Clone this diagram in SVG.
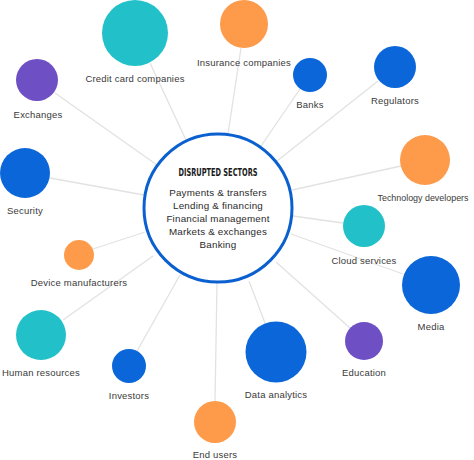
<svg xmlns="http://www.w3.org/2000/svg" width="474" height="460" viewBox="0 0 474 460">
<style>
.lbl{font-family:"Liberation Sans",Arial,sans-serif;font-size:9.5px;fill:#3a3a3a;text-anchor:middle;letter-spacing:0.2px}
.body{font-family:"Liberation Sans",Arial,sans-serif;font-size:9.8px;fill:#2a2a2a;text-anchor:middle;letter-spacing:0.2px}
.title{font-family:"Liberation Sans Narrow","DejaVu Sans Condensed",sans-serif;font-size:10.5px;font-weight:bold;fill:#1a1a1a;text-anchor:middle}
.teal{fill:#22c0c8}.orange{fill:#fd9b4b}.blue{fill:#0a66d9}.purple{fill:#6e4fc4}
.conn line{stroke:#e2e2e2;stroke-width:1.3}
</style>
<rect width="474" height="460" fill="#ffffff"/>
<g id="connectors" class="conn">
<line x1="150" y1="63" x2="186" y2="140"/>
<line x1="55" y1="93" x2="157" y2="165"/>
<line x1="50" y1="178" x2="144" y2="195"/>
<line x1="241" y1="48" x2="228" y2="134"/>
<line x1="300" y1="89" x2="261" y2="146"/>
<line x1="378" y1="81" x2="277" y2="161"/>
<line x1="401" y1="166" x2="292" y2="190"/>
<line x1="343" y1="223" x2="293" y2="216"/>
<line x1="403" y1="274" x2="291" y2="234"/>
<line x1="350" y1="328" x2="276" y2="262"/>
<line x1="265" y1="323" x2="249" y2="281"/>
<line x1="215" y1="401" x2="217" y2="283"/>
<line x1="137" y1="351" x2="180" y2="275"/>
<line x1="63" y1="320" x2="153" y2="256"/>
<line x1="93" y1="249" x2="145" y2="232"/>
</g>
<g id="center">
<circle cx="218" cy="208" r="74" fill="#ffffff" stroke="#0b60d0" stroke-width="3"/>
<text class="title" x="218" y="176" textLength="79" lengthAdjust="spacingAndGlyphs">DISRUPTED SECTORS</text>
<text class="body" x="218" y="195.5">Payments &amp; transfers</text>
<text class="body" x="218" y="208.5">Lending &amp; financing</text>
<text class="body" x="218" y="221.5">Financial management</text>
<text class="body" x="218" y="234.5">Markets &amp; exchanges</text>
<text class="body" x="218" y="247.5">Banking</text>
</g>
<g id="credit-card"><circle class="teal" cx="135" cy="33" r="33"/><text class="lbl" x="135" y="82">Credit card companies</text></g>
<g id="exchanges"><circle class="purple" cx="37" cy="80" r="21"/><text class="lbl" x="38" y="118">Exchanges</text></g>
<g id="security"><circle class="blue" cx="25" cy="173" r="25"/><text class="lbl" x="25" y="214">Security</text></g>
<g id="insurance"><circle class="orange" cx="244" cy="24" r="24"/><text class="lbl" x="244" y="66">Insurance companies</text></g>
<g id="banks"><circle class="blue" cx="310" cy="75" r="17"/><text class="lbl" x="310" y="108">Banks</text></g>
<g id="regulators"><circle class="blue" cx="395" cy="67" r="21"/><text class="lbl" x="395" y="104">Regulators</text></g>
<g id="tech"><circle class="orange" cx="425" cy="160" r="25"/><text class="lbl" x="423" y="201" style="letter-spacing:0" textLength="91" lengthAdjust="spacingAndGlyphs">Technology developers</text></g>
<g id="cloud"><circle class="teal" cx="364" cy="226" r="21"/><text class="lbl" x="364" y="264">Cloud services</text></g>
<g id="media"><circle class="blue" cx="431" cy="285" r="29"/><text class="lbl" x="431" y="330">Media</text></g>
<g id="education"><circle class="purple" cx="364" cy="341" r="19"/><text class="lbl" x="364" y="376">Education</text></g>
<g id="data"><circle class="blue" cx="276" cy="352" r="30.5"/><text class="lbl" x="276" y="398">Data analytics</text></g>
<g id="end-users"><circle class="orange" cx="215" cy="422" r="21"/><text class="lbl" x="215" y="458">End users</text></g>
<g id="investors"><circle class="blue" cx="129" cy="366" r="17"/><text class="lbl" x="129" y="399">Investors</text></g>
<g id="hr"><circle class="teal" cx="41" cy="335" r="25"/><text class="lbl" x="41" y="376">Human resources</text></g>
<g id="device"><circle class="orange" cx="79" cy="255" r="15"/><text class="lbl" x="79" y="286">Device manufacturers</text></g>
</svg>
